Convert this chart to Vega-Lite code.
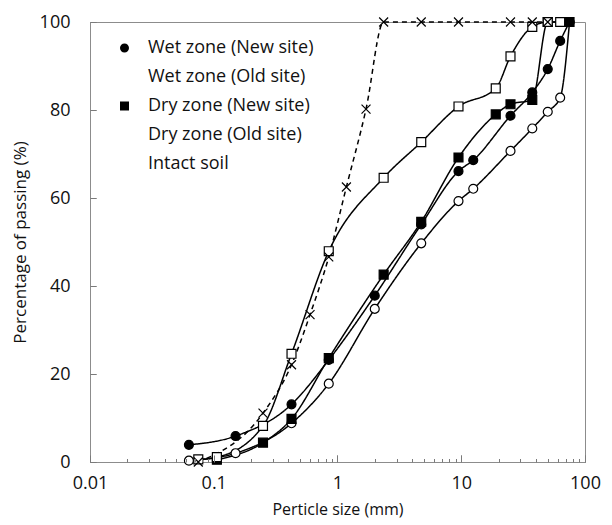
{
  "$schema": "https://vega.github.io/schema/vega-lite/v6.json",
  "autosize": {"type": "none"},
  "padding": {"left": 90, "top": 22, "right": 27, "bottom": 63},
  "width": 495,
  "height": 440,
  "background": "white",
  "config": {
    "view": {"stroke": "#8c8c8c", "strokeWidth": 1, "fill": null},
    "font": "Open Sans",
    "axis": {"zindex": 1, "domainColor": "#8c8c8c", "tickColor": "#7a7a7a", "tickWidth": 1, "labelColor": "#111", "titleColor": "#111", "grid": false, "labelFont": "Open Sans", "titleFont": "Open Sans", "titleFontWeight": "normal"},
    "legend": {"labelFont": "Open Sans", "labelFontSize": 18, "labelColor": "#111", "labelLimit": 0}
  },
  "data": {
    "values": [
      {"series": "Wet zone (New site)", "size": 0.063, "pass": 3.9},
      {"series": "Wet zone (New site)", "size": 0.15, "pass": 5.9},
      {"series": "Wet zone (New site)", "size": 0.425, "pass": 13.1},
      {"series": "Wet zone (New site)", "size": 0.85, "pass": 23.2},
      {"series": "Wet zone (New site)", "size": 2, "pass": 37.8},
      {"series": "Wet zone (New site)", "size": 4.75, "pass": 54.0},
      {"series": "Wet zone (New site)", "size": 9.5, "pass": 66.1},
      {"series": "Wet zone (New site)", "size": 12.5, "pass": 68.6},
      {"series": "Wet zone (New site)", "size": 25, "pass": 78.7},
      {"series": "Wet zone (New site)", "size": 37.5, "pass": 84.0},
      {"series": "Wet zone (New site)", "size": 50, "pass": 89.3},
      {"series": "Wet zone (New site)", "size": 63, "pass": 95.7},
      {"series": "Wet zone (New site)", "size": 75, "pass": 100},
      {"series": "Wet zone (Old site)", "size": 0.063, "pass": 0.3},
      {"series": "Wet zone (Old site)", "size": 0.15, "pass": 2.0},
      {"series": "Wet zone (Old site)", "size": 0.425, "pass": 8.8},
      {"series": "Wet zone (Old site)", "size": 0.85, "pass": 17.8},
      {"series": "Wet zone (Old site)", "size": 2, "pass": 34.8},
      {"series": "Wet zone (Old site)", "size": 4.75, "pass": 49.7},
      {"series": "Wet zone (Old site)", "size": 9.5, "pass": 59.3},
      {"series": "Wet zone (Old site)", "size": 12.5, "pass": 62.1},
      {"series": "Wet zone (Old site)", "size": 25, "pass": 70.7},
      {"series": "Wet zone (Old site)", "size": 37.5, "pass": 75.8},
      {"series": "Wet zone (Old site)", "size": 50, "pass": 79.6},
      {"series": "Wet zone (Old site)", "size": 63, "pass": 82.8},
      {"series": "Wet zone (Old site)", "size": 75, "pass": 100},
      {"series": "Dry zone (New site)", "size": 0.106, "pass": 0.5},
      {"series": "Dry zone (New site)", "size": 0.25, "pass": 4.4},
      {"series": "Dry zone (New site)", "size": 0.425, "pass": 9.8},
      {"series": "Dry zone (New site)", "size": 0.85, "pass": 23.6},
      {"series": "Dry zone (New site)", "size": 2.36, "pass": 42.6},
      {"series": "Dry zone (New site)", "size": 4.75, "pass": 54.6},
      {"series": "Dry zone (New site)", "size": 9.5, "pass": 69.2},
      {"series": "Dry zone (New site)", "size": 19, "pass": 79.0},
      {"series": "Dry zone (New site)", "size": 25, "pass": 81.3},
      {"series": "Dry zone (New site)", "size": 37.5, "pass": 82.3},
      {"series": "Dry zone (New site)", "size": 50, "pass": 100},
      {"series": "Dry zone (New site)", "size": 75, "pass": 100},
      {"series": "Dry zone (Old site)", "size": 0.075, "pass": 0.6},
      {"series": "Dry zone (Old site)", "size": 0.106, "pass": 1.1},
      {"series": "Dry zone (Old site)", "size": 0.25, "pass": 8.2},
      {"series": "Dry zone (Old site)", "size": 0.425, "pass": 24.6},
      {"series": "Dry zone (Old site)", "size": 0.85, "pass": 47.9},
      {"series": "Dry zone (Old site)", "size": 2.36, "pass": 64.6},
      {"series": "Dry zone (Old site)", "size": 4.75, "pass": 72.7},
      {"series": "Dry zone (Old site)", "size": 9.5, "pass": 80.8},
      {"series": "Dry zone (Old site)", "size": 19, "pass": 84.9},
      {"series": "Dry zone (Old site)", "size": 25, "pass": 92.2},
      {"series": "Dry zone (Old site)", "size": 37.5, "pass": 98.9},
      {"series": "Dry zone (Old site)", "size": 50, "pass": 100},
      {"series": "Dry zone (Old site)", "size": 63, "pass": 100},
      {"series": "Intact soil", "size": 0.075, "pass": 0},
      {"series": "Intact soil", "size": 0.25, "pass": 11.1},
      {"series": "Intact soil", "size": 0.425, "pass": 22.1},
      {"series": "Intact soil", "size": 0.6, "pass": 33.5},
      {"series": "Intact soil", "size": 0.85, "pass": 46.6},
      {"series": "Intact soil", "size": 1.18, "pass": 62.5},
      {"series": "Intact soil", "size": 1.7, "pass": 80.2},
      {"series": "Intact soil", "size": 2.36, "pass": 100},
      {"series": "Intact soil", "size": 4.75, "pass": 100},
      {"series": "Intact soil", "size": 9.5, "pass": 100},
      {"series": "Intact soil", "size": 25, "pass": 100},
      {"series": "Intact soil", "size": 37.5, "pass": 100},
      {"series": "Intact soil", "size": 50, "pass": 100}
    ]
  },
  "resolve": {
    "axis": {"x": "independent", "y": "independent"}
  },
  "layer": [
    {
      "mark": {"type": "line", "interpolate": "monotone", "color": "black", "strokeWidth": 1.5},
      "encoding": {
        "x": {
          "field": "size", "type": "quantitative",
          "scale": {"type": "log", "domain": [0.01, 100], "nice": false},
          "axis": {
            "title": "Perticle size (mm)",
            "titleFontSize": 16,
            "labelFontSize": 18,
            "values": [0.01,0.02,0.03,0.04,0.05,0.06,0.07,0.08,0.09,0.1,0.2,0.3,0.4,0.5,0.6,0.7,0.8,0.9,1,2,3,4,5,6,7,8,9,10,20,30,40,50,60,70,80,90,100],
            "labelExpr": "datum.value == 0.01 ? '0.01' : datum.value == 0.1 ? '0.1' : datum.value == 1 ? '1' : datum.value == 10 ? '10' : datum.value == 100 ? '100' : ''",
            "tickSize": {"condition": {"test": "indexof([0.01,0.1,1,10,100], datum.value) >= 0", "value": -7}, "value": -3.5},
            "labelPadding": 19,
            "labelFlush": false,
            "labelOverlap": false,
            "titlePadding": 6
          }
        },
        "y": {
          "field": "pass", "type": "quantitative",
          "scale": {"domain": [0, 100], "nice": false},
          "axis": {
            "title": "Percentage of passing (%)",
            "titleFontSize": 17,
            "labelFontSize": 18,
            "values": [0, 20, 40, 60, 80, 100],
            "tickSize": -6,
            "labelPadding": 26,
            "titlePadding": 10
          }
        },
        "detail": {"field": "series"},
        "strokeDash": {"condition": {"test": "datum.series == 'Intact soil'", "value": [5, 4]}, "value": [1, 0]}
      }
    },
    {
      "mark": {"type": "point", "filled": true, "stroke": "black", "strokeWidth": 1.2, "opacity": 1, "size": 80},
      "encoding": {
        "x": {
          "field": "size", "type": "quantitative",
          "axis": {
            "orient": "top", "offset": -440, "title": null, "labels": false, "domain": false, "zindex": 2,
            "values": [0.01,0.02,0.03,0.04,0.05,0.06,0.07,0.08,0.09,0.1,0.2,0.3,0.4,0.5,0.6,0.7,0.8,0.9,1,2,3,4,5,6,7,8,9,10,20,30,40,50,60,70,80,90,100],
            "tickSize": {"condition": {"test": "indexof([0.01,0.1,1,10,100], datum.value) >= 0", "value": 7}, "value": 3.5}
          }
        },
        "y": {
          "field": "pass", "type": "quantitative",
          "axis": {
            "orient": "right", "offset": -495, "title": null, "labels": false, "domain": false, "zindex": 2,
            "values": [0, 20, 40, 60, 80, 100],
            "tickSize": 6
          }
        },
        "fill": {"condition": {"test": "indexof(datum.series, 'Old') >= 0", "value": "white"}, "value": "black"},
        "shape": {
          "condition": [
            {"test": "datum.series == 'Intact soil'", "value": "M-1,-1L1,1M-1,1L1,-1"},
            {"test": "indexof(datum.series, 'Dry') >= 0", "value": "square"}
          ],
          "value": "circle"
        }
      }
    },
    {
      "transform": [{"filter": "false"}],
      "mark": {"type": "point", "filled": true, "color": "black", "stroke": "black", "strokeWidth": 1.3, "opacity": 1},
      "encoding": {
        "shape": {
          "field": "series", "type": "nominal",
          "scale": {"domain": ["Wet zone (New site)", "Wet zone (Old site)", "Dry zone (New site)", "Dry zone (Old site)", "Intact soil"], "range": [
            "M-1.85,0H-0.5M0.5,0H1.85M0.5,0A0.5,0.5,0,1,1,-0.5,0A0.5,0.5,0,1,1,0.5,0Z",
            "M-1.85,0H-0.5M0.5,0H1.85M0.5,0A0.5,0.5,0,1,1,-0.5,0A0.5,0.5,0,1,1,0.5,0Z",
            "M-1.85,0H-0.5M0.5,0H1.85M-0.5,-0.5H0.5V0.5H-0.5Z",
            "M-1.85,0H-0.5M0.5,0H1.85M-0.5,-0.5H0.5V0.5H-0.5Z",
            "M-1.85,0H-1.2M1.2,0H1.85M-0.5,-0.5L0.5,0.5M-0.5,0.5L0.5,-0.5"
          ]},
          "legend": {"title": null, "orient": "none", "legendX": 24.5, "legendY": 16, "symbolSize": 324, "labelOffset": 13.5, "rowPadding": 10, "symbolStrokeColor": "black", "symbolStrokeWidth": 1.3, "labelLimit": 0}
        },
        "fill": {
          "field": "series", "type": "nominal",
          "scale": {"domain": ["Wet zone (New site)", "Wet zone (Old site)", "Dry zone (New site)", "Dry zone (Old site)", "Intact soil"], "range": ["black", "white", "black", "white", "transparent"]},
          "legend": {"title": null, "orient": "none", "legendX": 24.5, "legendY": 16, "symbolSize": 324, "labelOffset": 13.5, "rowPadding": 10, "symbolStrokeColor": "black", "symbolStrokeWidth": 1.3, "labelLimit": 0}
        }
      }
    }
  ]
}
